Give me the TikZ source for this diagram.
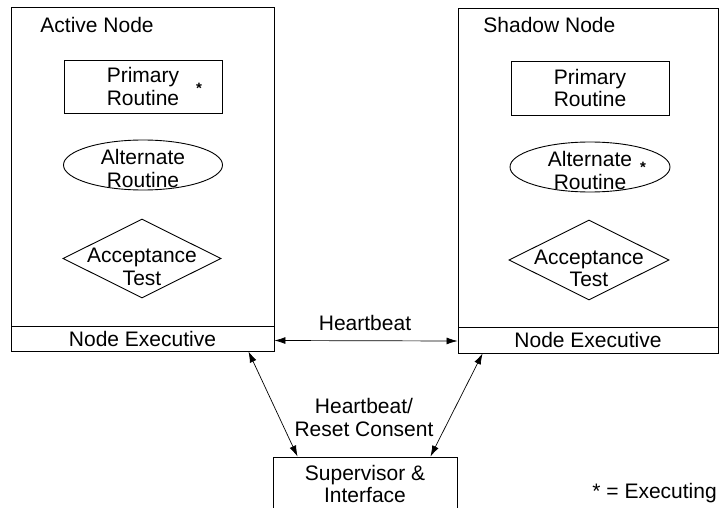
\documentclass[tikz,border=0pt]{standalone}
\usepackage{fontspec}
\setmainfont{Liberation Sans}
\usetikzlibrary{shapes.geometric,arrows.meta}
\begin{document}
\begin{tikzpicture}[x=1pt,y=-1pt,
  line width=0.9pt,
  txt/.style={font=\fontsize{21}{22.5}\selectfont, align=center, inner sep=0pt},
  boxrect/.style={draw, rectangle, inner sep=0pt},
  ovalshape/.style={draw, ellipse, inner sep=0pt},
  diashape/.style={draw, diamond, inner sep=0pt},
  star/.style={font=\fontsize{15}{15}\selectfont\bfseries, inner sep=0pt, anchor=base},
  arr/.style={{Latex[length=11pt,width=7pt]}-{Latex[length=11pt,width=7pt]}, line width=0.7pt}
]
\useasboundingbox (0,0) rectangle (721,508);
\clip (0,0) rectangle (721,508);

% Active node
\node[boxrect, minimum width=263pt, minimum height=319pt] (actL) at (142.5,166.5) {};
\node[boxrect, txt, minimum width=263pt, minimum height=25pt] (neL) at (142.5,338.5) {Node Executive};
\node[txt, anchor=west] (titL) at (40,25) {Active Node};
\node[boxrect, txt, minimum width=158pt, minimum height=53pt] (priL) at (143,86.5) {Primary\\Routine};
\node[star] (stL) at (199,94) {*};
\node[ovalshape, minimum width=159pt, minimum height=50pt] (altL) at (143,165) {};
\node[txt] (altLt) at (143,168.5) {Alternate\\Routine};
\node[diashape, minimum width=158pt, minimum height=79pt] (accL) at (142,258.5) {};
\node[txt] (accLt) at (142,267) {Acceptance\\Test};

% Shadow node
\node[boxrect, minimum width=260pt, minimum height=319pt] (actR) at (588,167.5) {};
\node[boxrect, txt, minimum width=260pt, minimum height=26pt] (neR) at (588,340) {Node Executive};
\node[txt, anchor=west] (titR) at (483,25) {Shadow Node};
\node[boxrect, txt, minimum width=158pt, minimum height=54pt] (priR) at (590,88) {Primary\\Routine};
\node[ovalshape, minimum width=160pt, minimum height=50pt] (altR) at (590,167) {};
\node[txt] (altRt) at (590,170.5) {Alternate\\Routine};
\node[star] (stR) at (643,173) {*};
\node[diashape, minimum width=160pt, minimum height=80pt] (accR) at (589,260) {};
\node[txt] (accRt) at (589,268.5) {Acceptance\\Test};

% Supervisor
\node[boxrect, txt, minimum width=184pt, minimum height=54pt] (sup) at (365,484) {Supervisor \&\\Interface};

% Connectors
\draw[arr] ([yshift=-2pt]neL.east) -- ([yshift=-1pt]neR.west);
\node[txt] (hb) at (365,323) {Heartbeat};
\draw[arr] ([xshift=-26pt]neL.south east) -- ([xshift=25pt]sup.north west);
\draw[arr] ([xshift=25pt]neR.south west) -- ([xshift=-27pt]sup.north east);
\node[txt] (hbr) at (364,417.5) {Heartbeat/\\Reset Consent};

\node[txt, anchor=west] (legend) at (592,493) {* = Executing};
\end{tikzpicture}
\end{document}
